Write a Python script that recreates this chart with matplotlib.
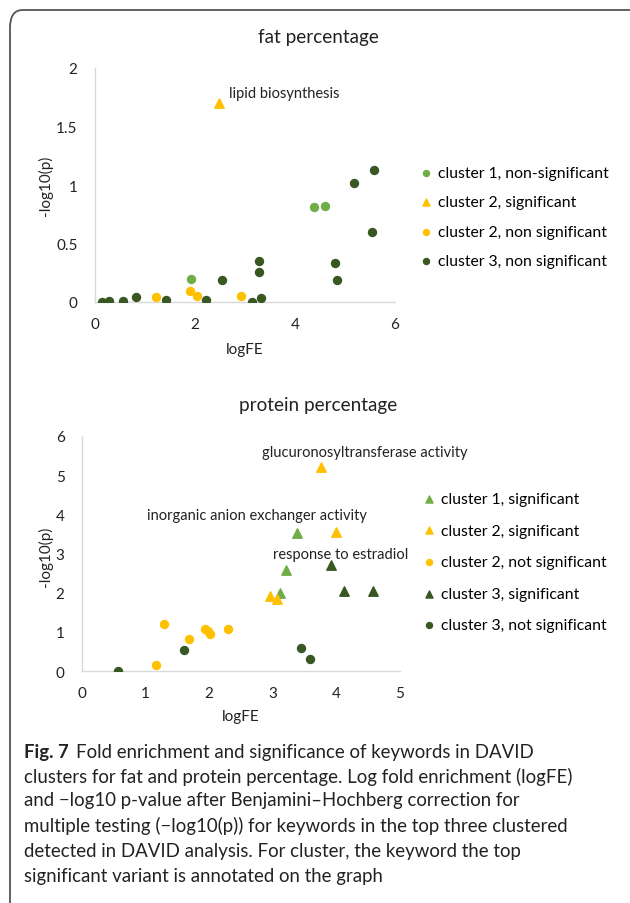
import matplotlib
matplotlib.use("Agg")
import matplotlib.pyplot as plt
from matplotlib.patches import FancyBboxPatch

plt.rcParams['font.family'] = ['Lato', 'DejaVu Sans']

# ---- data: fat percentage ----
fat_c1_ns_x = [1.91, 4.37, 4.59]
fat_c1_ns_y = [0.20, 0.81, 0.82]
fat_c2_s_x = [2.47]
fat_c2_s_y = [1.70]
fat_c2_ns_x = [1.21, 1.89, 2.03, 2.92]
fat_c2_ns_y = [0.04, 0.09, 0.05, 0.05]
fat_c3_ns_x = [0.13, 0.27, 0.55, 0.82, 1.41, 2.21, 2.53, 3.14, 3.31, 3.27, 3.27,
               4.79, 4.84, 5.17, 5.58, 5.53]
fat_c3_ns_y = [0.00, 0.01, 0.01, 0.04, 0.02, 0.02, 0.19, 0.00, 0.03, 0.35, 0.26,
               0.33, 0.19, 1.02, 1.13, 0.60]

# ---- data: protein percentage ----
prot_c1_s_x = [3.38, 3.21, 3.12]
prot_c1_s_y = [3.53, 2.57, 1.99]
prot_c2_s_x = [3.76, 3.99, 2.95, 3.07]
prot_c2_s_y = [5.20, 3.56, 1.92, 1.83]
prot_c2_ns_x = [1.29, 1.17, 1.69, 1.94, 1.98, 2.02, 2.30]
prot_c2_ns_y = [1.20, 0.15, 0.81, 1.08, 1.02, 0.95, 1.06]
prot_c3_s_x = [3.92, 4.12, 4.58]
prot_c3_s_y = [2.71, 2.03, 2.03]
prot_c3_ns_x = [0.57, 1.61, 3.45, 3.59]
prot_c3_ns_y = [0.00, 0.54, 0.59, 0.30]

LIGHT = '#70AD47'
YELLOW = '#FFC000'
DARK = '#385723'
AXCOL = '#D9D9D9'
TXT = '#222222'

W, H = 630, 904
fig = plt.figure(figsize=(W / 100, H / 100), dpi=100)


def px(x0, y0, x1, y1):
    # pixel box -> figure fraction [left, bottom, width, height]
    return [x0 / W, 1 - y1 / H, (x1 - x0) / W, (y1 - y0) / H]


def style(ax, xmax, ymax, xt, yt):
    ax.set_xlim(0, xmax)
    ax.set_ylim(0, ymax)
    ax.set_xticks(xt)
    ax.set_yticks(yt)
    ax.set_xticklabels([('%g' % v) for v in xt])
    ax.set_yticklabels([('%g' % v) for v in yt])
    for s in ['top', 'right']:
        ax.spines[s].set_visible(False)
    for s in ['left', 'bottom']:
        ax.spines[s].set_color(AXCOL)
        ax.spines[s].set_linewidth(1.0)
    ax.tick_params(axis='x', length=0, labelsize=11, colors=TXT, pad=10.5)
    ax.tick_params(axis='y', length=0, labelsize=11, colors=TXT, pad=12.5)
    ax.patch.set_alpha(0)


# rounded frame, cropped at right and bottom
frame = FancyBboxPatch((10 / W, -0.05), 1.2, 1 - 11 / H + 0.05,
                       boxstyle='round,pad=0,rounding_size=0.02',
                       transform=fig.transFigure, fill=False,
                       edgecolor='#555555', linewidth=1.3)
fig.patches.append(frame)

circ = 33
tri = 46
LEG_FS = 11.3
ANN_FS = 10.5
TITLE_FS = 13.6

# top chart
ax1 = fig.add_axes(px(95, 69, 395, 303))
style(ax1, 6, 2, [0, 2, 4, 6], [0, 0.5, 1, 1.5, 2])
ax1.scatter(fat_c1_ns_x, fat_c1_ns_y, s=circ, marker='o', color=LIGHT,
            label='cluster 1, non-significant', zorder=3)
ax1.scatter(fat_c2_s_x, fat_c2_s_y, s=tri, marker='^', color=YELLOW,
            label='cluster 2, significant', zorder=3)
ax1.scatter(fat_c2_ns_x, fat_c2_ns_y, s=circ, marker='o', color=YELLOW,
            label='cluster 2, non significant', zorder=3)
ax1.scatter(fat_c3_ns_x, fat_c3_ns_y, s=circ, marker='o', color=DARK,
            label='cluster 3, non significant', zorder=3)
ax1.text(2.68, 1.79, 'lipid biosynthesis', fontsize=ANN_FS, ha='left',
         va='center', color=TXT)
ax1.legend(loc='upper left', bbox_to_anchor=(421 / W, 1 - 167 / H),
           bbox_transform=fig.transFigure, frameon=False, fontsize=LEG_FS,
           handlelength=0.6, handletextpad=0.5, borderpad=0, borderaxespad=0,
           labelspacing=0.98, markerscale=0.75)
fig.text(318 / W, 1 - 38 / H, 'fat percentage', fontsize=TITLE_FS,
         ha='center', va='center', color=TXT)
fig.text(45 / W, 1 - 186 / H, '-log10(p)', fontsize=11, ha='center',
         va='center', rotation=90, color=TXT)
fig.text(245 / W, 1 - 350 / H, 'logFE', fontsize=11, ha='center',
         va='center', color=TXT)

# bottom chart
ax2 = fig.add_axes(px(82, 437, 400, 672))
style(ax2, 5, 6, [0, 1, 2, 3, 4, 5], [0, 1, 2, 3, 4, 5, 6])
ax2.scatter(prot_c1_s_x, prot_c1_s_y, s=tri, marker='^', color=LIGHT,
            label='cluster 1, significant', zorder=3)
ax2.scatter(prot_c2_s_x, prot_c2_s_y, s=tri, marker='^', color=YELLOW,
            label='cluster 2, significant', zorder=3)
ax2.scatter(prot_c2_ns_x, prot_c2_ns_y, s=circ, marker='o', color=YELLOW,
            label='cluster 2, not significant', zorder=3)
ax2.scatter(prot_c3_s_x, prot_c3_s_y, s=tri, marker='^', color=DARK,
            label='cluster 3, significant', zorder=3)
ax2.scatter(prot_c3_ns_x, prot_c3_ns_y, s=circ, marker='o', color=DARK,
            label='cluster 3, not significant', zorder=3)
ax2.text(2.83, 5.59, 'glucuronosyltransferase activity', fontsize=ANN_FS,
         ha='left', va='center', color=TXT)
ax2.text(1.02, 3.98, 'inorganic anion exchanger activity', fontsize=ANN_FS,
         ha='left', va='center', color=TXT)
ax2.text(3.00, 2.99, 'response to estradiol', fontsize=ANN_FS,
         ha='left', va='center', color=TXT)
ax2.legend(loc='upper left', bbox_to_anchor=(424 / W, 1 - 493 / H),
           bbox_transform=fig.transFigure, frameon=False, fontsize=LEG_FS,
           handlelength=0.6, handletextpad=0.5, borderpad=0, borderaxespad=0,
           labelspacing=1.12, markerscale=0.75)
fig.text(318 / W, 1 - 406 / H, 'protein percentage', fontsize=TITLE_FS,
         ha='center', va='center', color=TXT)
fig.text(45 / W, 1 - 557 / H, '-log10(p)', fontsize=11, ha='center',
         va='center', rotation=90, color=TXT)
fig.text(241 / W, 1 - 717 / H, 'logFE', fontsize=11, ha='center',
         va='center', color=TXT)

# caption
cap_lines = [
    'Fold enrichment and significance of keywords in DAVID',
    'clusters for fat and protein percentage. Log fold enrichment (logFE)',
    'and \u2212log10 p-value after Benjamini\u2013Hochberg correction for',
    'multiple testing (\u2212log10(p)) for keywords in the top three clustered',
    'detected in DAVID analysis. For cluster, the keyword the top',
    'significant variant is annotated on the graph',
]
cap_y = [753, 777, 801, 826, 852, 877]
cap_fs = 13.4
bold = fig.text(24 / W, 1 - cap_y[0] / H, 'Fig. 7', fontsize=cap_fs,
                fontweight='bold', ha='left', va='center', color=TXT)
fig.canvas.draw()
bb = bold.get_window_extent(fig.canvas.get_renderer())
fig.text((bb.x1 + 7) / W, 1 - cap_y[0] / H, cap_lines[0], fontsize=cap_fs,
         ha='left', va='center', color=TXT)
for line, y in zip(cap_lines[1:], cap_y[1:]):
    fig.text(24 / W, 1 - y / H, line, fontsize=cap_fs, ha='left',
             va='center', color=TXT)

fig.savefig('out.png', dpi=100)
